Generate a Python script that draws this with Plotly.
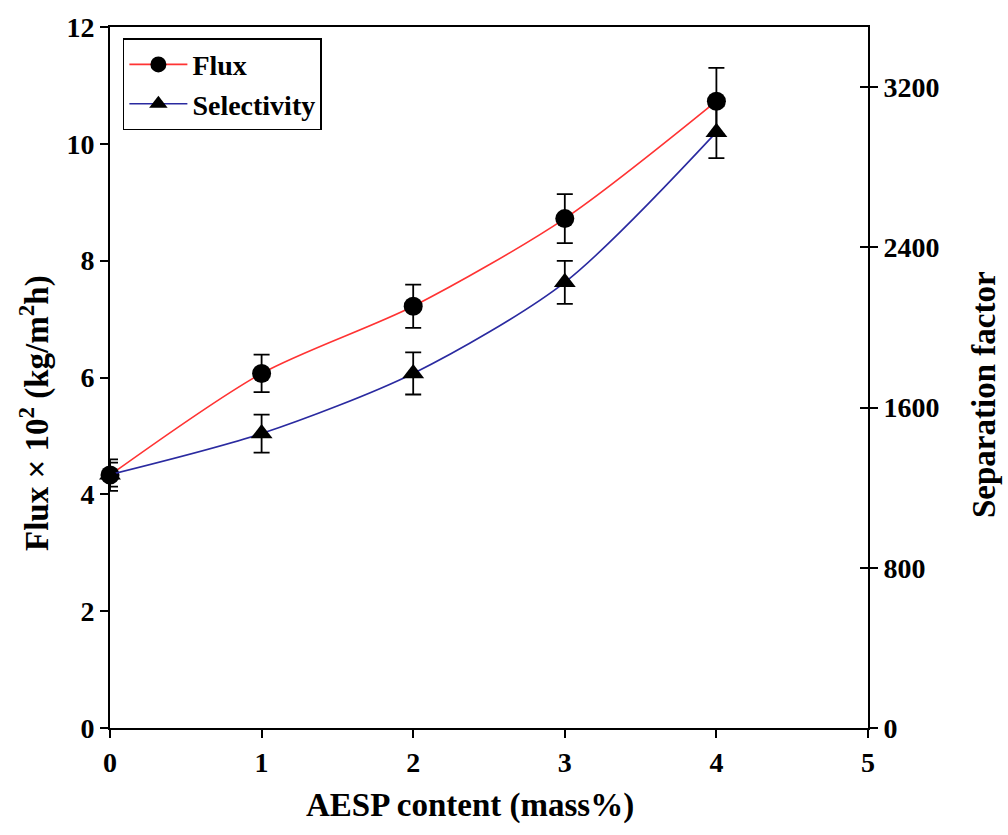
import plotly.graph_objects as go

aesp = [0, 1, 2, 3, 4]
flux = [4.33, 6.07, 7.22, 8.72, 10.73]
flux_err = [0.27, 0.32, 0.37, 0.42, 0.57]
selectivity = [1265, 1470, 1770, 2225, 2975]
sel_err = [60, 95, 105, 107, 130]

x_ticks = [0, 1, 2, 3, 4, 5]
left_ticks = [0, 2, 4, 6, 8, 10, 12]
right_ticks = [0, 800, 1600, 2400, 3200]

FONT = "Liberation Serif"

fig = go.Figure()
fig.add_trace(go.Scatter(
    x=aesp, y=flux, name="<b>Flux</b>", mode="lines+markers",
    line=dict(color="#ff3333", width=1.6, shape="spline", smoothing=0.8),
    marker=dict(symbol="circle", size=19, color="black"),
    error_y=dict(type="data", array=flux_err, color="black", thickness=1.8, width=8),
    cliponaxis=False,
))
fig.add_trace(go.Scatter(
    x=aesp, y=selectivity, name="<b>Selectivity</b>", mode="lines+markers",
    yaxis="y2",
    line=dict(color="#2a2aa0", width=1.6, shape="spline", smoothing=0.8),
    marker=dict(symbol="triangle-up", size=19, color="black"),
    error_y=dict(type="data", array=sel_err, color="black", thickness=1.8, width=8),
    cliponaxis=False,
))
# invisible trace to draw crossing (inside) ticks on right axis
fig.add_trace(go.Scatter(x=[None], y=[None], yaxis="y3", showlegend=False, hoverinfo="skip"))

tickfont = dict(family=FONT, size=28, color="black")
titlefont = dict(family=FONT, size=33, color="black")

fig.update_layout(
    width=1008, height=835,
    margin=dict(l=110, r=140, t=27, b=107),
    paper_bgcolor="white", plot_bgcolor="white",
    showlegend=True,
    legend=dict(
        x=0.017, y=0.984, xanchor="left", yanchor="top",
        bgcolor="white", bordercolor="black", borderwidth=1.5,
        font=dict(family=FONT, size=28, color="black"),
        tracegroupgap=2, itemwidth=58,
    ),
    xaxis=dict(
        range=[0, 5], tickvals=x_ticks, ticktext=[f"<b>{v}</b>" for v in x_ticks],
        showgrid=False, zeroline=False,
        showline=True, linecolor="black", linewidth=2, mirror=True,
        ticks="outside", ticklen=8, tickwidth=1.5, tickcolor="black",
        tickfont=tickfont,
    ),
    yaxis=dict(
        range=[0, 12], tickvals=left_ticks, ticktext=[f"<b>{v}</b>" for v in left_ticks],
        showgrid=False, zeroline=False,
        showline=True, linecolor="black", linewidth=2,
        ticks="outside", ticklen=8, tickwidth=1.5, tickcolor="black",
        tickfont=tickfont,
    ),
    yaxis2=dict(
        range=[0, 3500], tickvals=right_ticks, ticktext=[f"<b>{v}</b>" for v in right_ticks],
        overlaying="y", side="right",
        showgrid=False, zeroline=False,
        showline=True, linecolor="black", linewidth=2,
        ticks="outside", ticklen=8, tickwidth=1.5, tickcolor="black",
        tickfont=tickfont,
    ),
    yaxis3=dict(
        range=[0, 3500], tickvals=right_ticks, showticklabels=False,
        overlaying="y", side="right",
        showgrid=False, zeroline=False, showline=False,
        ticks="inside", ticklen=8, tickwidth=1.5, tickcolor="black",
    ),
    annotations=[
        dict(text="<b>AESP content (mass%)</b>", xref="paper", yref="paper",
             x=(470 - 110) / 758, y=-(805 - 728) / 701, showarrow=False,
             xanchor="center", yanchor="middle", font=titlefont),
        dict(text="<b>Flux × 10<sup>2</sup> (kg/m<sup>2</sup>h)</b>", xref="paper", yref="paper",
             x=(34 - 110) / 758, y=(728 - 413) / 701, showarrow=False, textangle=-90,
             xanchor="center", yanchor="middle", font=titlefont),
        dict(text="<b>Separation factor</b>", xref="paper", yref="paper",
             x=(984 - 110) / 758, y=(728 - 395) / 701, showarrow=False, textangle=-90,
             xanchor="center", yanchor="middle", font=titlefont),
    ],
)

fig.write_html("out.html")
